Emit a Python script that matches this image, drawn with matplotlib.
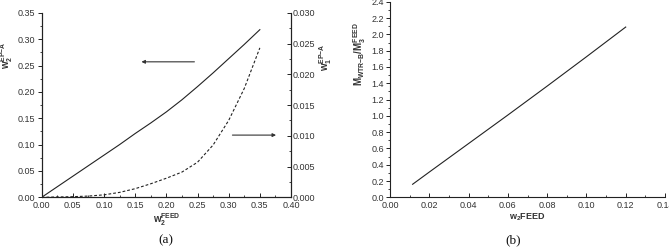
import matplotlib
matplotlib.use("Agg")
import matplotlib.pyplot as plt
from matplotlib.ticker import MultipleLocator, FormatStrFormatter

plt.rcParams['font.family'] = ['Liberation Sans', 'DejaVu Sans']
plt.rcParams['mathtext.fontset'] = 'custom'
plt.rcParams['mathtext.rm'] = 'Liberation Sans'
plt.rcParams['mathtext.bf'] = 'Liberation Sans:bold'
plt.rcParams['mathtext.it'] = 'Liberation Sans:italic'

# Panel (a) data
feed_a = [0.000, 0.025, 0.050, 0.075, 0.100, 0.125, 0.150, 0.175, 0.200,
          0.225, 0.250, 0.275, 0.300, 0.325, 0.350]
w2_epa = [0.000, 0.020, 0.040, 0.060, 0.080, 0.100, 0.121, 0.141, 0.162,
          0.185, 0.210, 0.236, 0.263, 0.290, 0.318]
feed_a_d = [0.000, 0.050, 0.075, 0.100, 0.125, 0.150, 0.175, 0.200, 0.225,
            0.250, 0.275, 0.300, 0.325, 0.350]
w1_epa = [0.0000, 0.0001, 0.0002, 0.0004, 0.0008, 0.0014, 0.0022, 0.0031, 0.0041,
          0.0057, 0.0085, 0.0125, 0.0177, 0.0243]

# Panel (b) data
feed_b = [0.0115, 0.02, 0.04, 0.06, 0.08, 0.10, 0.12]
m_ratio = [0.16, 0.31, 0.66, 1.01, 1.365, 1.725, 2.09]

txt = '#333333'
fs = 6.5

fig = plt.figure(figsize=(6.69, 2.5), dpi=100)

# ---------- (a) ----------
ax = fig.add_axes([0.0623, 0.2108, 0.3727, 0.738])
ax2 = ax.twinx()
ax.plot(feed_a, w2_epa, color='#222222', lw=0.8)
ax2.plot(feed_a_d, w1_epa, color='#222222', lw=0.8, ls=(0, (2.5, 1.8)))
ax.set_xlim(0, 0.40)
ax.set_ylim(0, 0.35)
ax2.set_ylim(0, 0.030)
ax.xaxis.set_major_locator(MultipleLocator(0.05))
ax.xaxis.set_minor_locator(MultipleLocator(0.025))
ax.yaxis.set_major_locator(MultipleLocator(0.05))
ax.yaxis.set_minor_locator(MultipleLocator(0.025))
ax2.yaxis.set_major_locator(MultipleLocator(0.005))
ax2.yaxis.set_minor_locator(MultipleLocator(0.0025))
ax.xaxis.set_major_formatter(FormatStrFormatter('%.2f'))
ax.yaxis.set_major_formatter(FormatStrFormatter('%.2f'))
ax2.yaxis.set_major_formatter(FormatStrFormatter('%.3f'))
ax.spines['top'].set_visible(False)
ax2.spines['top'].set_visible(False)
for a in (ax, ax2):
    for s in a.spines.values():
        s.set_linewidth(0.8)
        s.set_color('#222222')
ax.tick_params(axis='y', which='major', direction='out', length=3, width=0.7, labelsize=fs, colors='#222222', labelcolor=txt, pad=1.5)
ax.tick_params(axis='y', which='minor', direction='out', length=1.8, width=0.6, colors='#222222')
ax.tick_params(axis='x', which='major', direction='in', length=3, width=0.7, labelsize=fs, colors='#222222', labelcolor=txt, pad=2.5)
ax.tick_params(axis='x', which='minor', direction='in', length=1.8, width=0.6, colors='#222222')
ax2.tick_params(axis='y', which='major', direction='in', length=3, width=0.7, labelsize=fs, colors='#222222', labelcolor=txt, pad=1.5)
ax2.tick_params(axis='y', which='minor', direction='in', length=1.8, width=0.6, colors='#222222')
ax.set_xlabel(r'$\mathbf{w_2^{FEED}}$', fontsize=7, color=txt, labelpad=1)
ax.set_ylabel(r'$\mathbf{w_2^{EP{-}A}}$', fontsize=7, color=txt)
ax2.set_ylabel(r'$\mathbf{w_1^{EP{-}A}}$', fontsize=7, color=txt)
ax.yaxis.set_label_coords(-0.105, 0.77)
ax2.yaxis.set_label_coords(1.104, 0.76)
ax.annotate('', xy=(0.160, 0.257), xytext=(0.245, 0.257),
            arrowprops=dict(arrowstyle='-|>', color='#333333', lw=0.8, mutation_scale=5, shrinkA=0, shrinkB=0))
ax.annotate('', xy=(0.376, 0.118), xytext=(0.306, 0.118),
            arrowprops=dict(arrowstyle='-|>', color='#333333', lw=0.8, mutation_scale=5, shrinkA=0, shrinkB=0))
fig.text(0.2485, 0.04, '(a)', fontsize=9.5, family='Liberation Serif', ha='center', va='center', color='#111111')

# ---------- (b) ----------
bx = fig.add_axes([0.583, 0.2108, 0.411, 0.782])
bx.plot(feed_b, m_ratio, color='#222222', lw=0.8)
bx.set_xlim(0, 0.14)
bx.set_ylim(0, 2.4)
bx.xaxis.set_major_locator(MultipleLocator(0.02))
bx.xaxis.set_minor_locator(MultipleLocator(0.01))
bx.yaxis.set_major_locator(MultipleLocator(0.2))
bx.yaxis.set_minor_locator(MultipleLocator(0.1))
bx.xaxis.set_major_formatter(FormatStrFormatter('%.2f'))
bx.yaxis.set_major_formatter(FormatStrFormatter('%.1f'))
for s in ['top', 'right']:
    bx.spines[s].set_visible(False)
for s in bx.spines.values():
    s.set_linewidth(0.8)
    s.set_color('#222222')
bx.tick_params(axis='y', which='major', direction='out', length=3, width=0.7, labelsize=fs, colors='#222222', labelcolor=txt, pad=1.5)
bx.tick_params(axis='y', which='minor', direction='out', length=1.8, width=0.6, colors='#222222')
bx.tick_params(axis='x', which='major', direction='in', length=3, width=0.7, labelsize=fs, colors='#222222', labelcolor=txt, pad=2.5)
bx.tick_params(axis='x', which='minor', direction='in', length=1.8, width=0.6, colors='#222222')
bx.set_xlabel(r'$\mathbf{w_2FEED}$', fontsize=6.5, color=txt, labelpad=1)
bx.set_ylabel(r'$\mathbf{M_{WTR{-}B}/M_3^{FEED}}$', fontsize=7, color=txt)
bx.yaxis.set_label_coords(-0.08, 0.73)
fig.text(0.7668, 0.04, '(b)', fontsize=9.5, family='Liberation Serif', ha='center', va='center', color='#111111')

fig.savefig('out.png', dpi=100)
